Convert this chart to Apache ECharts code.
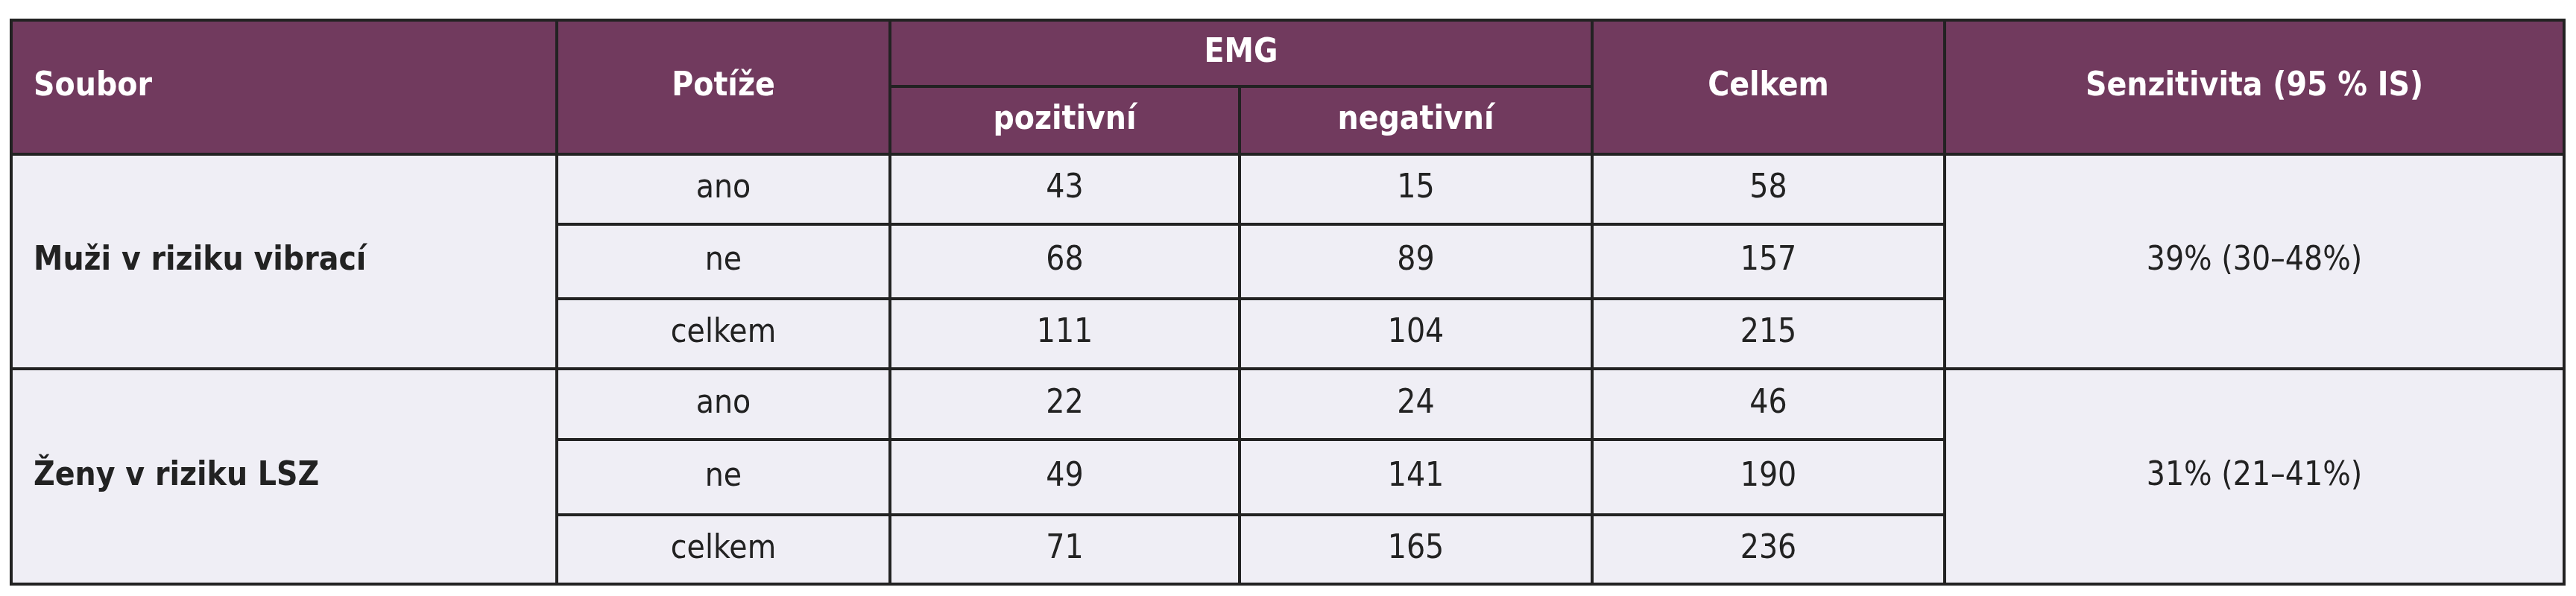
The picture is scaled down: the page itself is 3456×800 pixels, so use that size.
<!DOCTYPE html>
<html><head><meta charset="utf-8">
<script src="https://cdn.jsdelivr.net/npm/echarts@6/dist/echarts.min.js"></script>
<style>html,body{margin:0;background:#fff}#c{width:3456px;height:800px}</style>
</head><body><div id="c"></div>
<script>
const groups = ['Muži v riziku vibrací', 'Ženy v riziku LSZ'];
const complaints = ['ano', 'ne', 'celkem'];
const positive = [[43, 68, 111], [22, 49, 71]];
const negative = [[15, 89, 104], [24, 141, 165]];
const total = [[58, 157, 215], [46, 190, 236]];
const sensitivity = ['39% (30–48%)', '31% (21–41%)'];

const colX = [15, 747, 1194, 1663, 2136, 2609, 3440];
const headTop = 27, headMid = 116, headBot = 207;
const rowY = [207, 301, 401, 495, 590, 691, 784];
const FONT = '"Liberation Sans Narrow", "DejaVu Sans Condensed", "Noto Sans", sans-serif';
const HEAD = '#713a5e', BODY = '#efeef5', LINE = '#222';

const g = [];
function cell(x0, x1, y0, y1, fill, text, opt) {
  opt = opt || {};
  g.push({ type: 'rect', shape: { x: x0, y: y0, width: x1 - x0, height: y1 - y0 },
    style: { fill: fill, stroke: LINE, lineWidth: 4 } });
  g.push({ type: 'text', x: opt.left ? x0 + 30 : (x0 + x1) / 2, y: (y0 + y1) / 2,
    style: { text: text, fill: opt.color || '#222', font: (opt.bold ? 'bold ' : '') + '44px ' + FONT,
      align: opt.left ? 'left' : 'center', verticalAlign: 'middle' } });
}
const hw = { color: '#fff', bold: true };
cell(colX[0], colX[1], headTop, headBot, HEAD, 'Soubor', Object.assign({ left: true }, hw));
cell(colX[1], colX[2], headTop, headBot, HEAD, 'Potíže', hw);
cell(colX[2], colX[4], headTop, headMid, HEAD, 'EMG', hw);
cell(colX[2], colX[3], headMid, headBot, HEAD, 'pozitivní', hw);
cell(colX[3], colX[4], headMid, headBot, HEAD, 'negativní', hw);
cell(colX[4], colX[5], headTop, headBot, HEAD, 'Celkem', hw);
cell(colX[5], colX[6], headTop, headBot, HEAD, 'Senzitivita (95 % IS)', hw);

groups.forEach((name, gi) => {
  const r0 = gi * 3;
  cell(colX[0], colX[1], rowY[r0], rowY[r0 + 3], BODY, name, { left: true, bold: true });
  cell(colX[5], colX[6], rowY[r0], rowY[r0 + 3], BODY, sensitivity[gi]);
  complaints.forEach((c, i) => {
    const y0 = rowY[r0 + i], y1 = rowY[r0 + i + 1];
    cell(colX[1], colX[2], y0, y1, BODY, c);
    cell(colX[2], colX[3], y0, y1, BODY, String(positive[gi][i]));
    cell(colX[3], colX[4], y0, y1, BODY, String(negative[gi][i]));
    cell(colX[4], colX[5], y0, y1, BODY, String(total[gi][i]));
  });
});

const chart = echarts.init(document.getElementById('c'), null, { renderer: 'canvas' });
chart.setOption({ animation: false, graphic: g });
</script></body></html>
